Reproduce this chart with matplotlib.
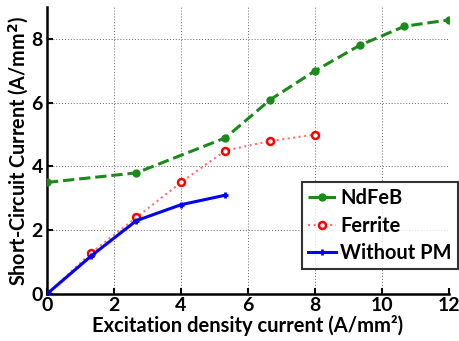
import numpy as np
import matplotlib
matplotlib.use('Agg')
import matplotlib.pyplot as plt

plt.rcParams['font.family'] = ['Lato', 'DejaVu Sans']
plt.rcParams['font.weight'] = 'bold'

# Data.
x_ndfeb = [0, 2.67, 5.33, 6.67, 8, 9.33, 10.67, 12]
y_ndfeb = [3.5, 3.8, 4.9, 6.1, 7.0, 7.8, 8.4, 8.6]

x_ferrite = [0, 1.33, 2.67, 4, 5.33, 6.67, 8]
y_ferrite = [0, 1.3, 2.4, 3.5, 4.5, 4.8, 5.0]

x_nopm = [0, 1.33, 2.67, 4, 5.33]
y_nopm = [0, 1.2, 2.3, 2.8, 3.1]

xticks = [0, 2, 4, 6, 8, 10, 12]
yticks = [0, 2, 4, 6, 8]

fig = plt.figure(figsize=(4.6, 3.41), dpi=100)
ax = fig.add_axes([0.102, 0.138, 0.874, 0.841])

ax.plot(x_ndfeb, y_ndfeb, '--', c='#1a8a1a', lw=2.2, marker='o', ms=5,
        label='NdFeB', zorder=3)
ax.plot(x_ferrite, y_ferrite, ':', c='#ff7070', lw=1.5, marker='o', ms=5,
        mfc='white', mec='red', mew=1.8, label='Ferrite', zorder=2)
ax.plot(x_nopm, y_nopm, '-', c='#0000ff', lw=2.2, marker='+', ms=5,
        mew=2, label='Without PM', zorder=4)

ax.set_xlim(0, 12)
ax.set_ylim(0, 9)
ax.set_xticks(xticks)
ax.set_yticks(yticks)
ax.grid(True, ls=(0, (1, 2)), c='#666666', lw=0.7)
ax.spines['top'].set_visible(False)
ax.spines['right'].set_visible(False)
ax.spines['left'].set_linewidth(1.8)
ax.spines['bottom'].set_linewidth(1.8)
ax.tick_params(direction='in', length=4, width=1.5, labelsize=14)
ax.tick_params(axis='x', pad=2)
ax.tick_params(axis='y', pad=3)

ax.set_xlabel('Excitation density current (A/mm²)', fontsize=14.5, fontweight='bold', labelpad=1)
ax.set_ylabel('Short-Circuit Current (A/mm$^\\mathbf{2}$)', fontsize=14.2, fontweight='bold', labelpad=0)

leg = ax.legend(loc='upper right', bbox_to_anchor=(458 / 460, 1 - 182 / 341),
                bbox_transform=fig.transFigure, fontsize=14.4, frameon=True,
                fancybox=False, handlelength=1.4, handletextpad=0.2,
                borderpad=0.3, labelspacing=0.38, borderaxespad=0)
leg.get_frame().set_edgecolor('black')
leg.get_frame().set_linewidth(1.5)

fig.savefig('out.png', dpi=100)
